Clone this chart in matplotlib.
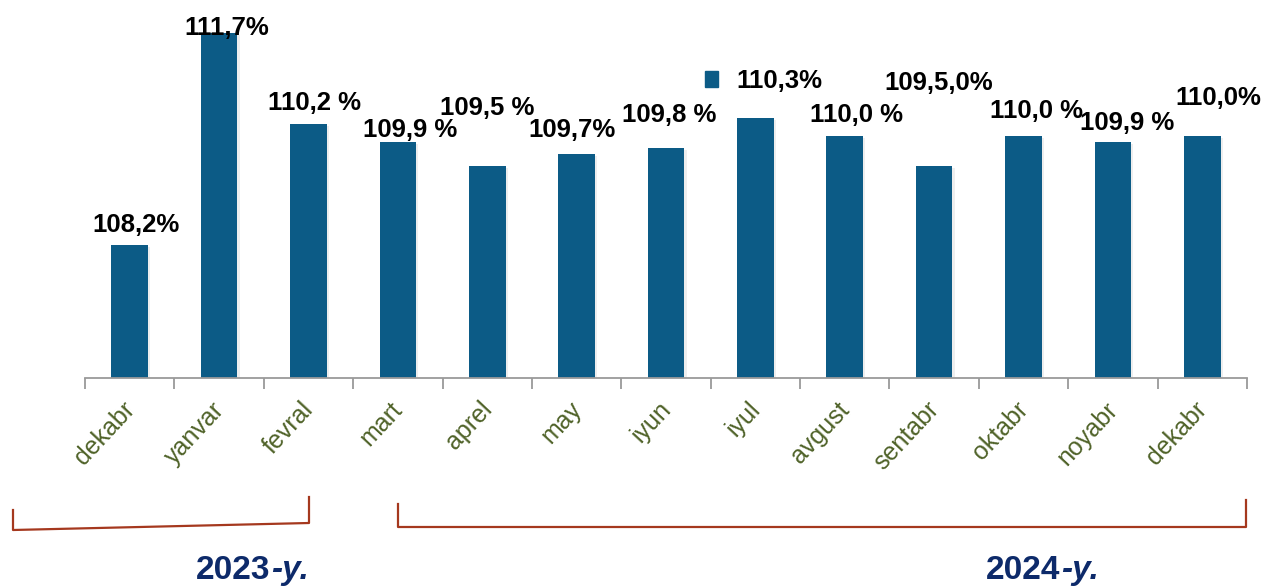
import matplotlib
matplotlib.use("Agg")
import matplotlib.pyplot as plt
import matplotlib.transforms as mtransforms
from matplotlib.patches import Patch
from matplotlib.lines import Line2D

# ---- data ----
months = ["dekabr", "yanvar", "fevral", "mart", "aprel", "may", "iyun",
          "iyul", "avgust", "sentabr", "oktabr", "noyabr", "dekabr"]
values = [108.2, 111.7, 110.2, 109.9, 109.5, 109.7, 109.8,
          110.3, 110.0, 109.5, 110.0, 109.9, 110.0]
value_labels = ["108,2%", "111,7%", "110,2 %", "109,9 %", "109,5 %", "109,7%",
                "109,8 %", "110,3%", "110,0 %", "109,5,0%", "110,0 %",
                "109,9 %", "110,0%"]
years = ["2023", "2024"]

# ---- styling / positions ----
W, H = 1265, 588
BAR_COLOR = "#0C5B86"
TICK_COLOR = "#4F6228"
BRACKET_COLOR = "#A5381E"
YEAR_COLOR = "#0D2A6A"
LABEL_FS = 18.5
# label offsets (pixels) relative to bar top-centre: (dx, dy of baseline)
label_offsets = [(6, 13), (8, -2), (6, 14), (12, 5), (0, 51), (-5, 17),
                 (3, 26), None, (12, 14), (5, 76), (13, 18), (14, 12), (16, 31)]

plt.rcParams['font.family'] = ['Liberation Sans', 'DejaVu Sans']

fig = plt.figure(figsize=(W / 100, H / 100), dpi=100)
ax = fig.add_axes([85 / W, 1 - 378 / H, (1247 - 85) / W, 378 / H])

x = list(range(len(values)))
base = 106.0
# subtle shadow
ax.bar([xi + 0.025 for xi in x], [v - base for v in values], bottom=base - 0.04,
       width=0.41, color="#C8C8C8", alpha=0.3, zorder=1)
ax.bar(x, [v - base for v in values], bottom=base, width=0.41,
       color=BAR_COLOR, zorder=2)

ax.set_xlim(-0.5, len(values) - 0.5)
ax.set_ylim(base, 112.24)

for s in ["top", "right", "left"]:
    ax.spines[s].set_visible(False)
ax.spines["bottom"].set_color("#9A9A9A")
ax.spines["bottom"].set_linewidth(1.3)
ax.set_yticks([])

ax.set_xticks(x)
ax.set_xticklabels(months, rotation=47, ha="right", va="top",
                   rotation_mode="anchor", fontsize=18, color=TICK_COLOR)
ax.tick_params(axis="x", which="major", length=0, pad=14)
shift = mtransforms.ScaledTranslation(-8 / 100, 0, fig.dpi_scale_trans)
for lbl in ax.get_xticklabels():
    lbl.set_transform(lbl.get_transform() + shift)
ax.set_xticks([i - 0.5 for i in range(len(values) + 1)], minor=True)
ax.tick_params(axis="x", which="minor", length=8, width=1.3, color="#9A9A9A")

for xi, v, lab, off in zip(x, values, value_labels, label_offsets):
    if off is None:
        continue
    ax.annotate(lab, xy=(xi, v), xytext=off, textcoords="offset pixels",
                ha="center", va="baseline", fontsize=LABEL_FS, fontweight="bold",
                color="black", zorder=5)

# legend-like label for the highlighted month
leg = fig.legend(handles=[Patch(color=BAR_COLOR)], labels=[value_labels[7]],
                 loc="center left", bbox_to_anchor=(705 / W, 1 - 81 / H),
                 frameon=False, fontsize=LABEL_FS, handlelength=0.52,
                 handleheight=0.55, handletextpad=0.7, borderpad=0,
                 borderaxespad=0)
for t in leg.get_texts():
    t.set_fontweight("bold")

# year brackets
def fig_line(pts):
    xs = [p[0] / W for p in pts]
    ys = [1 - p[1] / H for p in pts]
    fig.add_artist(Line2D(xs, ys, color=BRACKET_COLOR, lw=1.6,
                          transform=fig.transFigure))

fig_line([(13, 510), (13, 530), (309, 523), (309, 497)])
fig_line([(398, 504), (398, 527), (1246, 527), (1246, 500)])

for yr, xe in zip(years, [270, 1060]):
    fig.text(xe / W, 1 - 579 / H, yr, ha="right", va="baseline",
             fontsize=24, fontweight="bold", color=YEAR_COLOR)
    fig.text((xe + 1) / W, 1 - 579 / H, "-y.", ha="left", va="baseline",
             fontsize=24, fontweight="bold", fontstyle="italic", color=YEAR_COLOR)

fig.savefig("out.png", dpi=100)
